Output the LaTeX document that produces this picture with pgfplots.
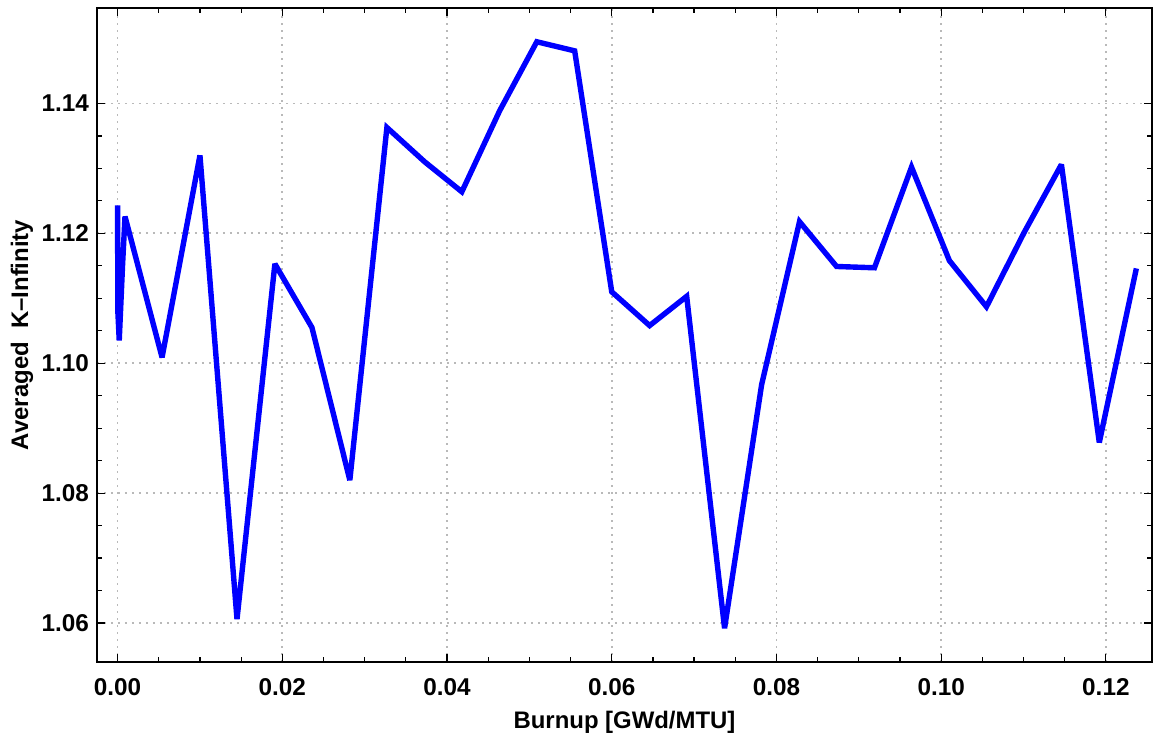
\documentclass[border=0pt]{standalone}
\usepackage{fontspec}
\setmainfont{Liberation Sans}
\usepackage{pgfplots}
\pgfplotsset{compat=1.18}
\begin{document}
\begin{tikzpicture}
\begin{axis}[
  scale only axis, width=527.5bp, height=327bp,
  xmin=-0.0025, xmax=0.1256, ymin=1.054, ymax=1.1547,
  xtick={0,0.02,0.04,0.06,0.08,0.10,0.12},
  ytick={1.06,1.08,1.10,1.12,1.14},
  minor x tick num=3, minor y tick num=3,
  tick align=inside, major tick length=4bp, minor tick length=2.5bp,
  tick style={black, line width=0.6bp},
  axis line style={black, line width=0.9bp},
  scaled x ticks=false, scaled y ticks=false,
  /pgf/number format/assume math mode=true,
  /pgf/number format/fixed, /pgf/number format/fixed zerofill, /pgf/number format/precision=2,
  ticklabel style={font=\fontsize{12.2}{14}\selectfont\bfseries},
  xticklabel style={yshift=-4.5bp},
  yticklabel style={xshift=-0.5bp},
  grid=major,
  major grid style={gray!55, line width=0.9bp, dash pattern=on 0.9bp off 2.6bp},
  xlabel={Burnup [GWd/MTU]},
  ylabel={Averaged\ \ K--Infinity},
  label style={font=\fontsize{12}{14}\selectfont\bfseries},
  xlabel style={at={(axis description cs:0.5,-0.0917)}, anchor=center},
  ylabel style={at={(axis description cs:-0.0711,0.5)}, anchor=center},
]
\addplot[color={rgb,255:red,0;green,0;blue,255}, line width=2.7bp, line join=miter, miter limit=3, mark=none] coordinates {
(0.0000,1.1243) (0.00003,1.1080) (0.0002,1.1035) (0.0006,1.1150) (0.0009,1.1226)
(0.0054,1.1009) (0.0100,1.1320) (0.0145,1.0606) (0.0191,1.1153)
(0.0236,1.1055) (0.0282,1.0820) (0.0327,1.1363) (0.0373,1.1310)
(0.0418,1.1264) (0.0464,1.1389) (0.0509,1.1495) (0.0555,1.1481)
(0.0600,1.1110) (0.0646,1.1058) (0.0691,1.1103) (0.0737,1.0592)
(0.0782,1.0967) (0.0828,1.1218) (0.0873,1.1149) (0.0919,1.1147)
(0.0964,1.1302) (0.1010,1.1158) (0.1055,1.1087) (0.1101,1.1202)
(0.1146,1.1306) (0.1192,1.0878) (0.1237,1.1146)
};
\end{axis}
\path ([xshift=-48.5bp,yshift=-38bp]current axis.south west) rectangle ([xshift=1bp,yshift=4bp]current axis.north east);
\end{tikzpicture}
\end{document}
